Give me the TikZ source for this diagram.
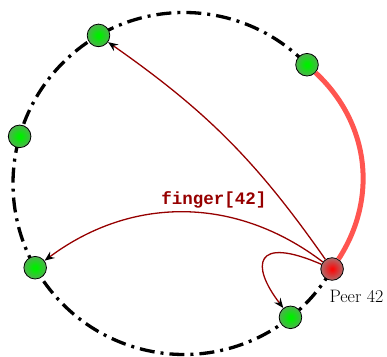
\documentclass[tikz,border=0pt]{standalone}
\usepackage{fontspec}
\usepackage{tikz}
\usetikzlibrary{arrows.meta}
\newfontfamily\fingerfont{Liberation Mono}
\definecolor{fingerred}{RGB}{150,0,0}
\definecolor{succred}{RGB}{255,85,80}
\definecolor{peerin}{RGB}{0,238,0}
\definecolor{peerout}{RGB}{100,160,100}
\definecolor{mein}{RGB}{250,10,10}
\definecolor{meout}{RGB}{170,112,112}
\pgfdeclareradialshading{peerball}{\pgfpoint{0bp}{0bp}}{color(0bp)=(peerin); color(4bp)=(peerin); color(30bp)=(peerout); color(50bp)=(peerout)}
\pgfdeclareradialshading{meball}{\pgfpoint{0bp}{0bp}}{color(0bp)=(mein); color(2bp)=(mein); color(26bp)=(meout); color(50bp)=(meout)}

\begin{document}
\begin{tikzpicture}[x=1pt,y=1pt,
    peer/.style={circle,draw,line width=.8pt,minimum size=22.6pt,inner sep=0pt,shading=peerball},
    me/.style={peer,shading=meball},
    finger/.style={draw=fingerred,line width=1.3pt,-{Stealth[black,length=10pt,width=8pt,inset=3.5pt]}}]
  \useasboundingbox (0,0) rectangle (387,356);
  \coordinate (c) at (184,172.5);
  \draw[line width=3.3pt,dash pattern=on 15pt off 6pt on 3pt off 6pt]
    ([shift={(44:171pt)}]c) arc[start angle=44,end angle=330,radius=171pt];
  \foreach \a/\n in {120/p1,44/p2,164/p3,209.5/p4,308.5/p5}
    \node[peer] (\n) at ([shift={(\a:171pt)}]c) {};
  \node[me] (p42) at ([shift={(330:171pt)}]c) {};
  \node[anchor=base west,font=\fontsize{18}{18}\selectfont] (lbl) at (326,53.3) {Peer \oldstylenums{42}};
  % successor and fingers
  \draw[succred,line width=5pt] (p42) to[bend right=40] (p2);
  \draw[finger] (p42) to[bend right=10] (p1);
  \draw[finger] (p42) to[bend right=37] (p4);
  \draw[finger] (p42) .. controls +(-78,34) and +(-40,52) .. (p5);
  \node[text=fingerred,font=\fingerfont\bfseries\fontsize{17.5}{18}\selectfont] (flbl) at (214,156) {finger[42]};
\end{tikzpicture}
\end{document}
